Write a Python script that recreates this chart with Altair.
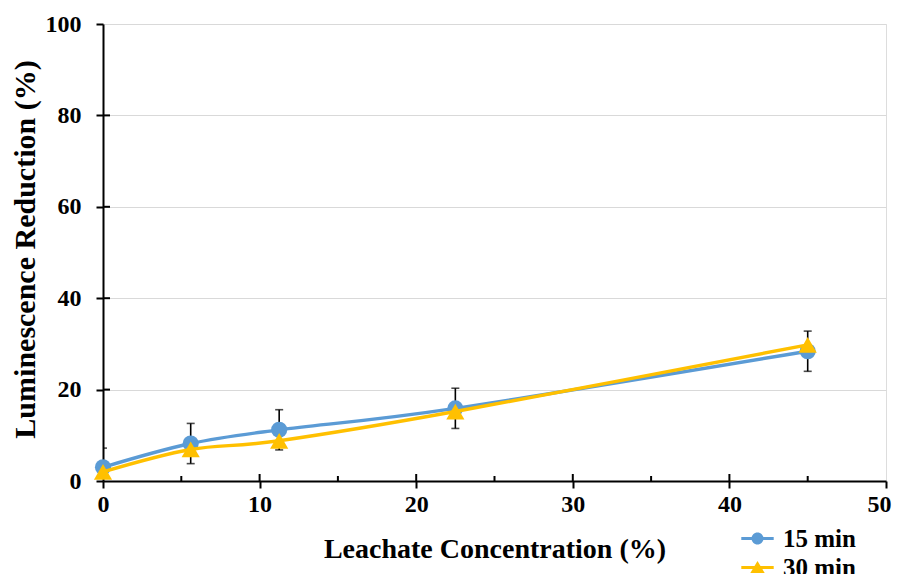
import altair as alt
import pandas as pd

# ---- data ----
conc = [0, 5.6, 11.25, 22.5, 45]
red_15 = [3.0, 8.2, 11.2, 15.9, 28.4]
red_30 = [2.0, 6.9, 8.8, 15.2, 29.8]
err_15 = [4.2, 4.4, 4.4, 4.4, 4.4]
series = ["15 min", "30 min"]
x_tick_vals = [0, 10, 20, 30, 40, 50]
y_tick_vals = [0, 20, 40, 60, 80, 100]
x_inner_major = [10, 20, 30, 40]
x_inner_minor = [5, 15, 25, 35, 45]
y_inner_major = [20, 40, 60, 80]

BLUE = "#5B9BD5"
GOLD = "#FFC000"
FONT = "Liberation Serif"
W, H = 783, 457

df15 = pd.DataFrame({
    "x": conc, "y": red_15,
    "lo": [a - b for a, b in zip(red_15, err_15)],
    "hi": [a + b for a, b in zip(red_15, err_15)],
})
df30 = pd.DataFrame({"x": conc, "y": red_30})
df_leg = pd.DataFrame({"series": series})

xscale = alt.Scale(domain=[0, 50], nice=False, zero=False)
yscale = alt.Scale(domain=[0, 100], nice=False)

x_axis = alt.Axis(values=x_tick_vals, title="Leachate Concentration (%)", grid=False,
                  tickSize=7, tickWidth=2, tickColor="black", domainColor="black",
                  domainWidth=2, labelPadding=4, labelFont=FONT, labelFontSize=24,
                  labelFontWeight="bold", labelColor="black", titleFont=FONT,
                  titleFontSize=28, titleFontWeight="bold", titleColor="black",
                  titleY=76, titleBaseline="alphabetic", labelFlush=False,
                  labelOffset={"condition": {"test": "datum.value == 50", "value": -7},
                               "value": 0})
y_axis = alt.Axis(values=y_tick_vals, title="Luminescence Reduction (%)", grid=True,
                  gridColor="#D9D9D9", gridWidth=1,
                  tickSize=7, tickWidth=2, tickColor="black", domainColor="black",
                  domainWidth=2, labelPadding=15, labelFont=FONT, labelFontSize=24,
                  labelFontWeight="bold", labelColor="black", titleFont=FONT,
                  titleFontSize=30, titleFontWeight="bold", titleColor="black",
                  titleX=-69, titleY=225, titleBaseline="alphabetic", titleAngle=270,
                  labelFlush=False)


def X(field):
    return alt.X(f"{field}:Q", scale=xscale, axis=x_axis)


def Y(field):
    return alt.Y(f"{field}:Q", scale=yscale, axis=y_axis)


line15 = alt.Chart(df15).mark_line(color=BLUE, strokeWidth=3.4, interpolate="cardinal",
                                   tension=0).encode(x=X("x"), y=Y("y"))
err_rule = alt.Chart(df15).mark_rule(color="black", strokeWidth=1.6, clip=True).encode(
    x=X("x"), y=Y("lo"), y2="hi")
cap_hi = alt.Chart(df15).mark_tick(color="black", orient="horizontal", size=8,
                                   thickness=1.6, clip=True).encode(x=X("x"), y=Y("hi"))
cap_lo = alt.Chart(df15).mark_tick(color="black", orient="horizontal", size=8,
                                   thickness=1.6, clip=True).encode(x=X("x"), y=Y("lo"))
pts15 = alt.Chart(df15).mark_point(shape="circle", filled=True, color=BLUE, size=260,
                                   opacity=1).encode(x=X("x"), y=Y("y"))
line30 = alt.Chart(df30).mark_line(color=GOLD, strokeWidth=3.4, interpolate="cardinal",
                                   tension=0).encode(x=X("x"), y=Y("y"))
pts30 = alt.Chart(df30).mark_point(shape="triangle-up", filled=True, color=GOLD, size=330,
                                   opacity=1).encode(x=X("x"), y=Y("y"))

# inner halves of the crossing ticks and inner minor ticks
tx_major = alt.Chart(pd.DataFrame({"t": x_inner_major})).mark_rule(
    color="black", strokeWidth=2).encode(x=X("t"), y=alt.value(H), y2=alt.value(H - 7))
tx_minor = alt.Chart(pd.DataFrame({"t": x_inner_minor})).mark_rule(
    color="black", strokeWidth=2).encode(x=X("t"), y=alt.value(H), y2=alt.value(H - 5))
ty_major = alt.Chart(pd.DataFrame({"t": y_inner_major})).mark_rule(
    color="black", strokeWidth=2).encode(y=Y("t"), x=alt.value(0), x2=alt.value(7))

# legend: line + marker symbols as custom paths
circ_path = ("M-2.7,-0.25H2.7V0.25H-2.7Z "
             "M-1,0A1,1 0 1,1 1,0A1,1 0 1,1 -1,0Z")
tri_path = ("M-2.7,-0.25H2.7V0.25H-2.7Z "
            "M0,-1.1L1.2,0.9L-1.2,0.9Z")
leg = alt.Legend(title=None, orient="none", legendX=642, legendY=502,
                 labelFont=FONT, labelFontSize=25, labelFontWeight="bold",
                 labelColor="black", labelOffset=13, symbolSize=144, symbolOpacity=1,
                 symbolStrokeWidth=0, rowPadding=3, padding=0)
legend_layer = alt.Chart(df_leg).mark_point(filled=True, opacity=0, size=144).encode(
    x=alt.value(0), y=alt.value(0),
    color=alt.Color("series:N", scale=alt.Scale(domain=series, range=[BLUE, GOLD]),
                    legend=leg),
    shape=alt.Shape("series:N", scale=alt.Scale(domain=series, range=[circ_path, tri_path]),
                    legend=leg),
)

chart = alt.layer(
    line15, err_rule, cap_hi, cap_lo, pts15, line30, pts30,
    tx_major, tx_minor, ty_major, legend_layer,
).properties(
    width=W, height=H,
    autosize=alt.AutoSizeParams(type="none"),
    padding={"left": 95, "top": 16, "right": 6, "bottom": 100},
).configure_view(
    stroke="black", strokeWidth=2
).configure(background="white")

chart.save("out.html", embed_options={"renderer": "svg", "actions": False})
